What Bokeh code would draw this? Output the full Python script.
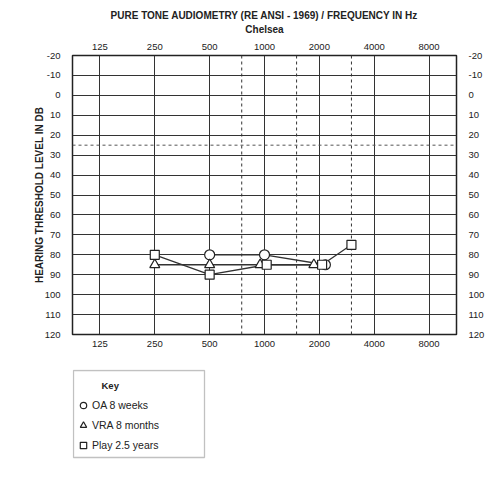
import numpy as np
from bokeh.plotting import figure
from bokeh.layouts import column
from bokeh.models import (Range1d, FixedTicker, LogAxis, LinearAxis, Span, Title,
                          Legend, LegendItem, Label, BoxAnnotation)
from bokeh.embed import file_html
from bokeh.resources import INLINE

# ---- data ----
freq_ticks = [125, 250, 500, 1000, 2000, 4000, 8000]
freq_half = [750, 1500, 3000]
db_ticks = list(range(-20, 121, 10))
normal_limit = [25]

oa_freq = [500, 1000, 2000]
oa_db = [80, 80, 85]
oa_nudge = [0.0, 0.0, 0.11]      # octaves, separates overlapping symbols

vra_freq = [250, 500, 1000, 2000]
vra_db = [85, 85, 85, 85]
vra_nudge = [0.0, 0.0, -0.08, -0.1]

play_freq = [250, 500, 1000, 2000, 3000]
play_db = [80, 90, 85, 85, 75]
play_nudge = [0.0, 0.0, 0.04, 0.05, 0.0]

series_labels = ["OA 8 weeks", "VRA 8 months", "Play 2.5 years"]

FONT = "Liberation Sans"
INK = "#222222"

def nudged(freq, nudge):
    return [f * 2 ** n for f, n in zip(freq, nudge)]

p = figure(width=492, height=352, x_axis_type="log",
           x_range=Range1d(125 / np.sqrt(2), 8000 * np.sqrt(2)),
           y_range=Range1d(120, -20),
           output_backend="svg", toolbar_location=None, title=None,
           min_border_left=72, min_border_right=36,
           min_border_top=55, min_border_bottom=18)
p.background_fill_color = "white"
p.border_fill_color = "white"
p.outline_line_color = INK
p.outline_line_width = 1.5

xbot = p.below[0]
yleft = p.left[0]
xtop = LogAxis()
p.add_layout(xtop, "above")
yright = LinearAxis()
p.add_layout(yright, "right")

for ax in [xbot, xtop]:
    ax.ticker = FixedTicker(ticks=freq_ticks, minor_ticks=[])
    ax.major_label_overrides = {f: str(f) for f in freq_ticks}
    ax.major_label_standoff = 0
for ax in [yleft, yright]:
    ax.ticker = FixedTicker(ticks=db_ticks, minor_ticks=[])
    ax.major_label_overrides = {d: str(d) for d in db_ticks}
    ax.major_label_standoff = 6
for ax in [xbot, xtop, yleft, yright]:
    ax.axis_line_color = None
    ax.major_tick_line_color = None
    ax.minor_tick_line_color = None
    ax.major_label_text_font = FONT
    ax.major_label_text_font_size = "9.5px"
    ax.major_label_text_color = INK

yleft.axis_label = "HEARING THRESHOLD LEVEL IN DB"
yleft.axis_label_text_font = FONT
yleft.axis_label_text_font_size = "10px"
yleft.axis_label_text_font_style = "bold"
yleft.axis_label_text_color = INK
yleft.axis_label_standoff = -3

# titles
p.add_layout(Title(text="Chelsea", align="center", vertical_align="top",
                   text_font=FONT, text_font_size="10px", text_font_style="bold",
                   text_color=INK, standoff=7), "above")
p.add_layout(Title(text="PURE TONE AUDIOMETRY (RE ANSI - 1969) / FREQUENCY IN Hz",
                   align="center", text_font=FONT, text_font_size="10px",
                   text_font_style="bold", text_color=INK, standoff=0), "above")

# grid
p.xgrid.ticker = FixedTicker(ticks=freq_ticks, minor_ticks=[])
p.ygrid.ticker = FixedTicker(ticks=db_ticks, minor_ticks=[])
for g in [p.xgrid[0], p.ygrid[0]]:
    g.grid_line_color = "#333333"
    g.grid_line_width = 1
    g.grid_line_alpha = 1

for f in freq_half:
    p.add_layout(Span(location=f, dimension="height", line_color="#333333",
                      line_width=1, line_dash="3 3", level="underlay"))
for d in normal_limit:
    p.add_layout(Span(location=d, dimension="width", line_color="#555555",
                      line_width=1, line_dash="3 3", level="underlay"))

# series lines and symbols
line_kw = dict(line_color="#333333", line_width=1.3)
mk = dict(fill_color="white", line_color=INK, line_width=1.2)
series = [(oa_freq, oa_db, oa_nudge, "circle", 10),
          (vra_freq, vra_db, vra_nudge, "triangle", 10),
          (play_freq, play_db, play_nudge, "square", 9)]
for fr, db, nd, _, _ in series:
    p.line(nudged(fr, nd), db, **line_kw)
for fr, db, nd, marker, size in series:
    p.scatter(nudged(fr, nd), db, marker=marker, size=size, **mk)

# ---- key box (separate panel below the audiogram) ----
k = figure(width=492, height=119, x_range=Range1d(0, 1), y_range=Range1d(0, 1),
           output_backend="svg", toolbar_location=None, title=None,
           x_axis_location=None, y_axis_location=None,
           min_border_left=72, min_border_right=36,
           min_border_top=17, min_border_bottom=12)
k.grid.visible = False
k.background_fill_color = "white"
k.border_fill_color = "white"
k.outline_line_color = None

k.add_layout(BoxAnnotation(left=1, right=132, bottom=2, top=89,
                           left_units="screen", right_units="screen",
                           bottom_units="screen", top_units="screen",
                           fill_alpha=0, line_color="#333333", line_width=1.3))

items = []
for (fr, db, nd, marker, size), lab in zip(series, series_labels):
    # hidden copies of the series: they only supply the key's symbols
    r = k.scatter(fr, db, marker=marker, size=size, visible=False, **mk)
    items.append(LegendItem(label=lab, renderers=[r]))

legend = Legend(items=items, location=(3, 6),
                label_text_font=FONT, label_text_font_size="10.5px",
                label_text_color=INK,
                glyph_width=16, glyph_height=16, label_height=16,
                label_standoff=1, spacing=4, padding=3, margin=0,
                border_line_color=None, background_fill_alpha=0,
                inactive_fill_alpha=0)
k.add_layout(legend)
k.add_layout(Label(x=29, y=74, x_units="screen", y_units="screen", text="Key",
                   text_baseline="middle", text_font=FONT, text_font_size="9.5px",
                   text_font_style="bold", text_color=INK))

layout = column(p, k)
open("out.html", "w").write(file_html(layout, INLINE))
